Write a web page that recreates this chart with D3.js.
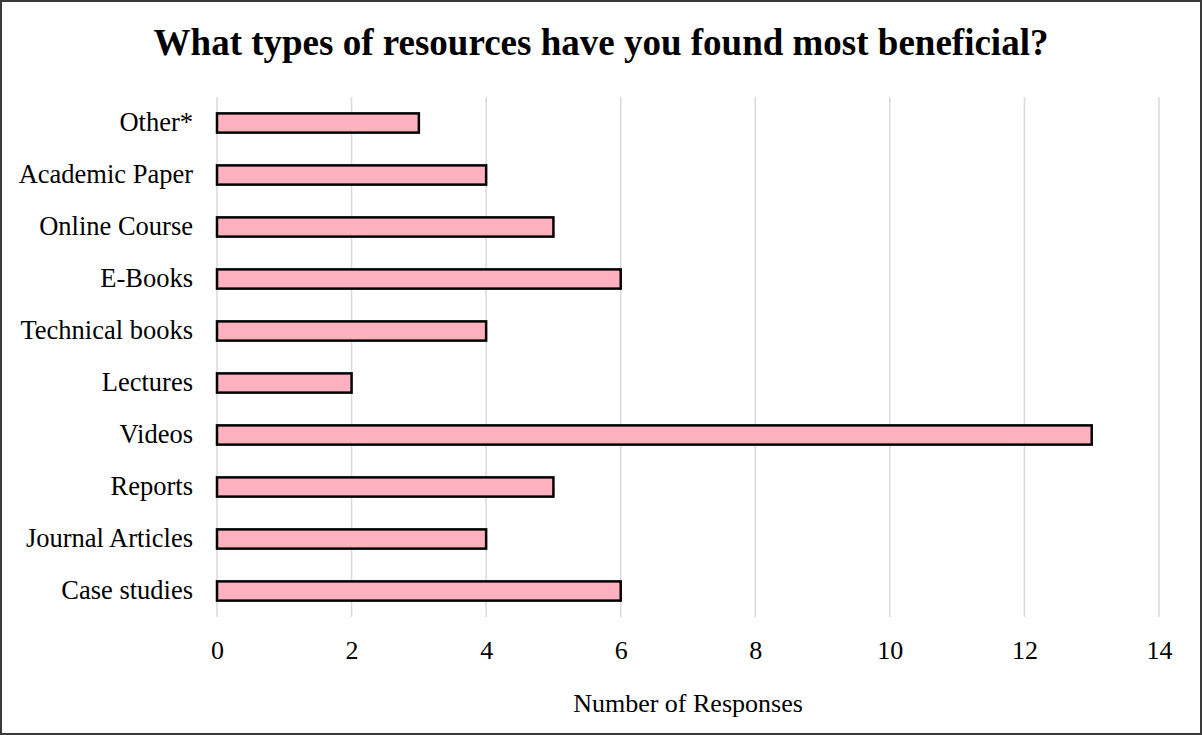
<!DOCTYPE html>
<html>
<head>
<meta charset="utf-8">
<script src="https://cdn.jsdelivr.net/npm/d3@7"></script>
<style>
  html, body { margin: 0; padding: 0; background: #fff; }
  svg { display: block; }
  text { font-family: "Liberation Serif", "Times New Roman", serif; fill: #000; }
</style>
</head>
<body>
<svg id="chart" width="1202" height="735"></svg>
<script>
// Survey responses per resource type (top to bottom as drawn)
const categories = ["Other*", "Academic Paper", "Online Course", "E-Books", "Technical books",
                    "Lectures", "Videos", "Reports", "Journal Articles", "Case studies"];
const responses = [3, 4, 5, 6, 4, 2, 13, 5, 4, 6];
const xTicks = [0, 2, 4, 6, 8, 10, 12, 14];

const W = 1202, H = 735;
const margin = { left: 217, right: 43, top: 97, bottom: 118 };
const svg = d3.select("#chart");

// Outer frame
svg.append("rect")
  .attr("x", 1).attr("y", 1).attr("width", W - 2).attr("height", H - 2)
  .attr("fill", "#fff").attr("stroke", "#3a3a3a").attr("stroke-width", 2);

const x = d3.scaleLinear().domain([0, 14]).range([margin.left, W - margin.right]);
const y = d3.scaleBand().domain(categories)
  .range([margin.top, H - margin.bottom]).paddingInner(0.63).paddingOuter(0.315);

// Title
svg.append("text")
  .attr("x", W / 2).attr("y", 55)
  .attr("text-anchor", "middle")
  .style("font-size", "37px").style("font-weight", "bold")
  .text("What types of resources have you found most beneficial?");

// Vertical gridlines
svg.append("g").selectAll("line").data(xTicks).join("line")
  .attr("x1", d => x(d)).attr("x2", d => x(d))
  .attr("y1", margin.top).attr("y2", H - margin.bottom)
  .attr("stroke", "#d9d9d9").attr("stroke-width", 1.5);

// X axis tick labels
const xAxis = d3.axisBottom(x).tickValues(xTicks).tickSize(0).tickPadding(24);
const gx = svg.append("g").attr("transform", `translate(0,${H - margin.bottom})`).call(xAxis);
gx.select(".domain").remove();
gx.selectAll("text").style("font-size", "26px").style("font-family", "Liberation Serif, serif");

// Y axis category labels
const yAxis = d3.axisLeft(y).tickSize(0).tickPadding(24);
const gy = svg.append("g").attr("transform", `translate(${margin.left},0)`).call(yAxis);
gy.select(".domain").remove();
gy.selectAll("text").style("font-size", "26.5px").style("font-family", "Liberation Serif, serif");

// Bars
svg.append("g").selectAll("rect").data(categories).join("rect")
  .attr("x", x(0))
  .attr("y", d => y(d))
  .attr("width", (d, i) => x(responses[i]) - x(0))
  .attr("height", y.bandwidth())
  .attr("fill", "#ffb1bf")
  .attr("stroke", "#000").attr("stroke-width", 2.5);

// X axis title
svg.append("text")
  .attr("x", (x(0) + x(14)) / 2).attr("y", 712)
  .attr("text-anchor", "middle")
  .style("font-size", "26px")
  .text("Number of Responses");
</script>
</body>
</html>
